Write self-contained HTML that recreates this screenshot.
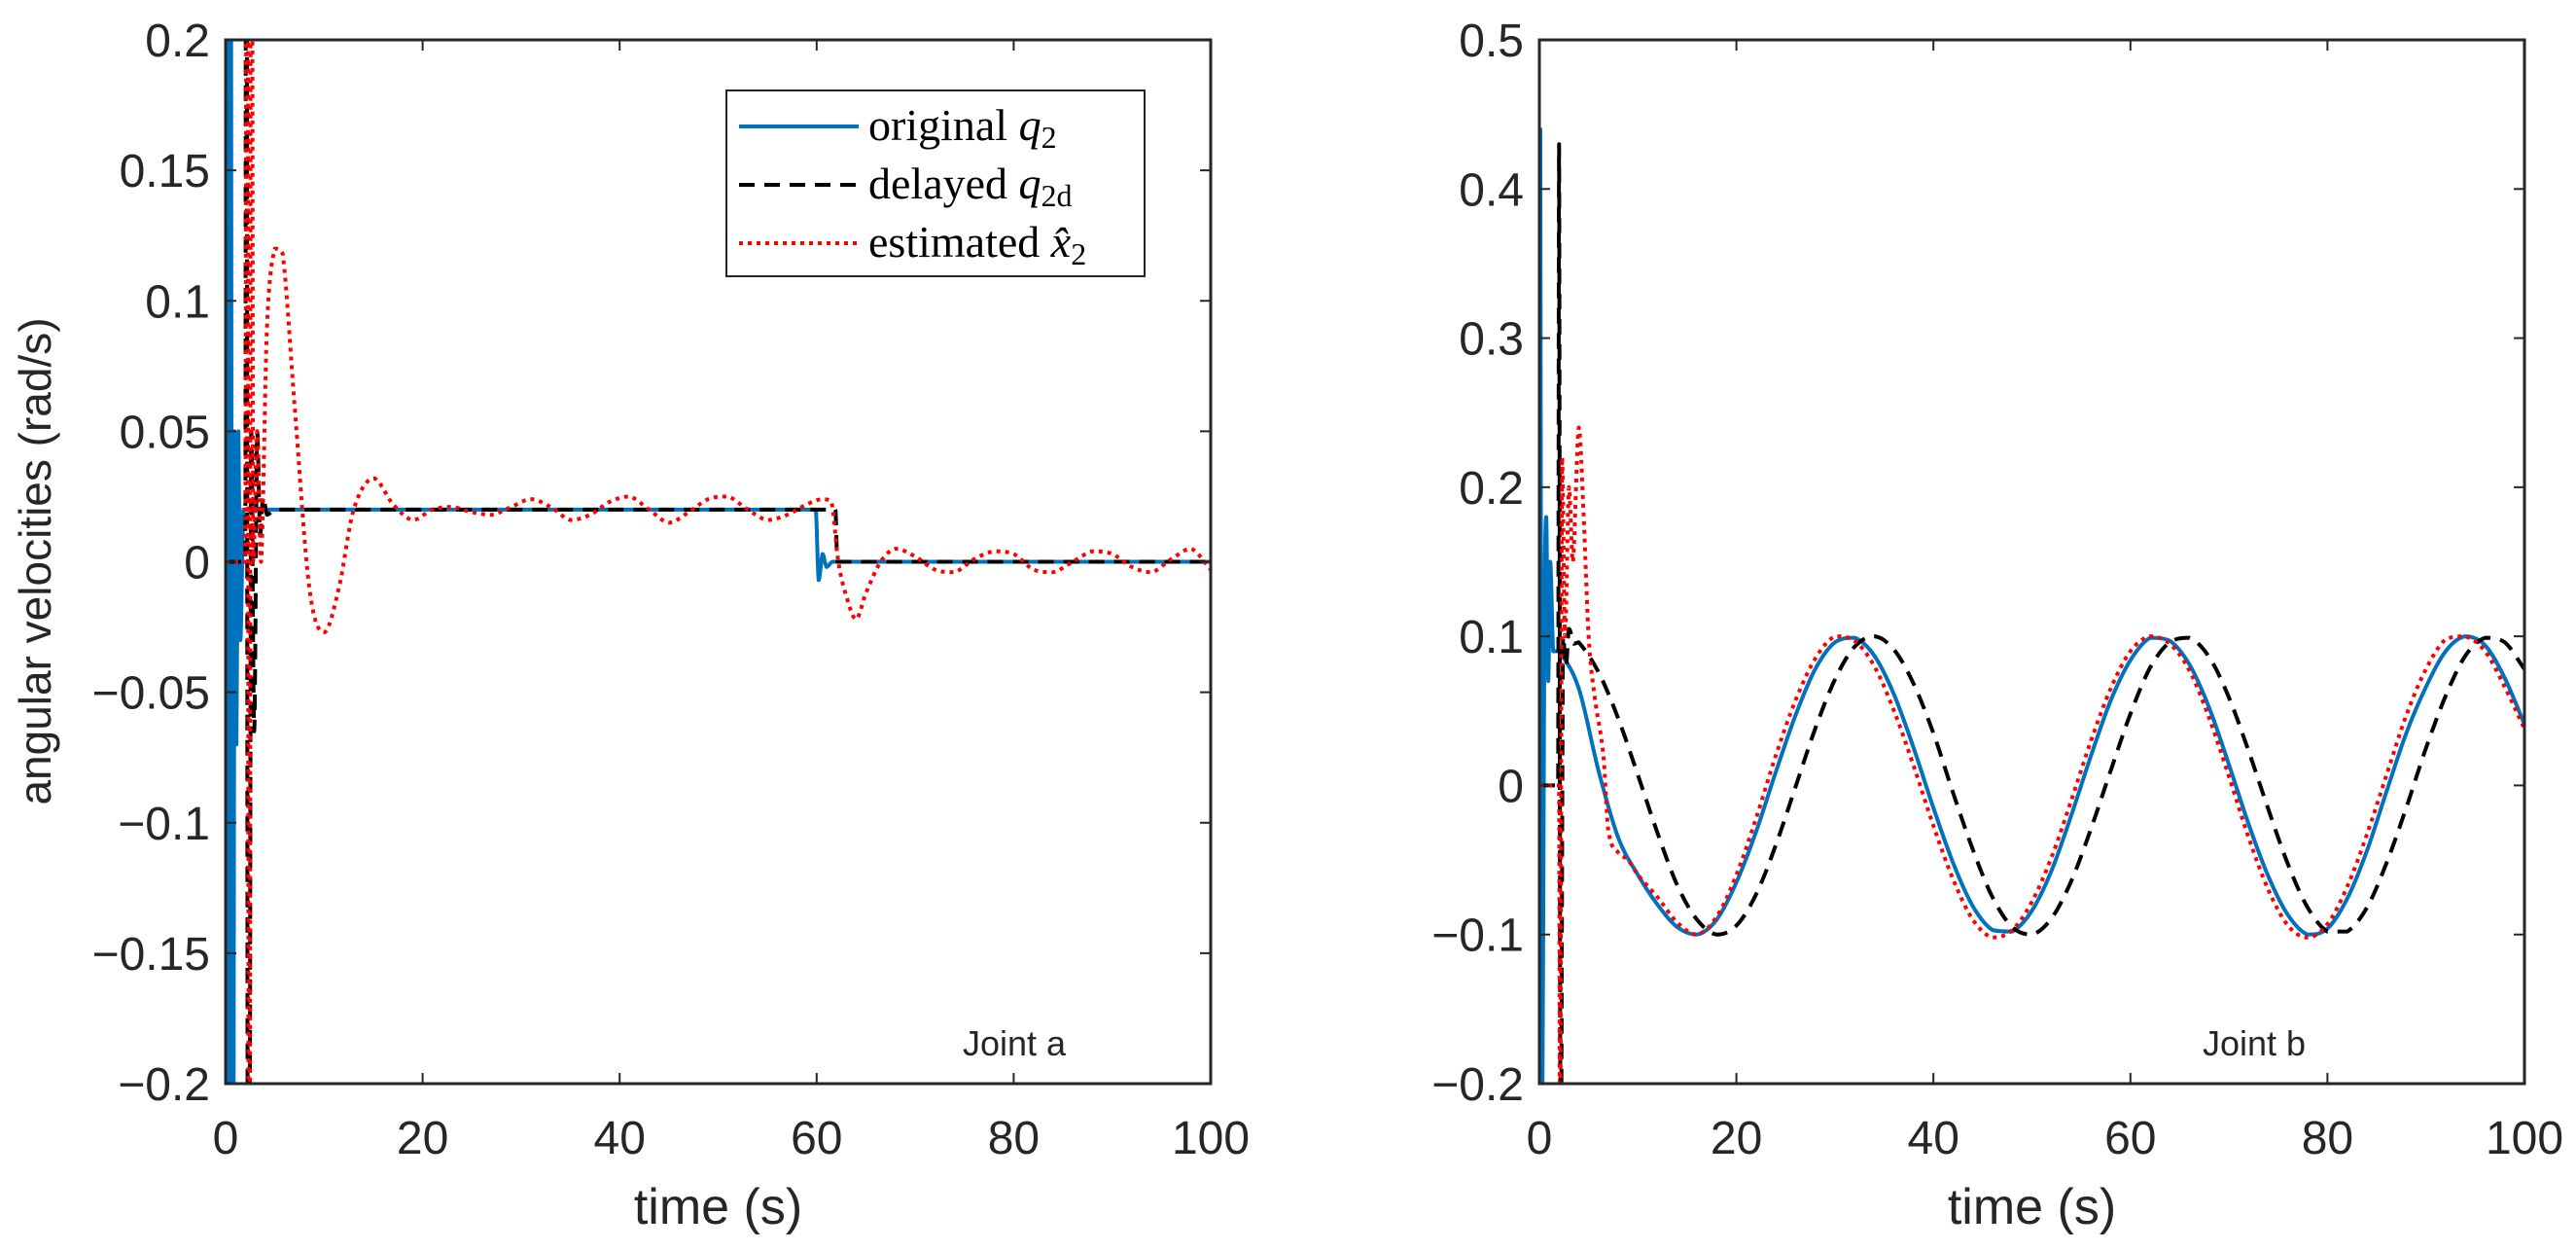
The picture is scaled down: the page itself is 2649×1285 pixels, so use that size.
<!DOCTYPE html>
<html><head><meta charset="utf-8"><style>
html,body{margin:0;padding:0;background:#fff;width:2649px;height:1285px;overflow:hidden}
svg{display:block}
text{font-family:"Liberation Sans",sans-serif;fill:#262626}
</style></head><body>
<svg id="chart" width="2649" height="1285" viewBox="0 0 2649 1285"></svg>
<script>
// ---- data ----
const xTicks=[0,20,40,60,80,100];
const yTicksA=[-0.2,-0.15,-0.1,-0.05,0,0.05,0.1,0.15,0.2];
const yTickLabelsA=["\u22120.2","\u22120.15","\u22120.1","\u22120.05","0","0.05","0.1","0.15","0.2"];
const yTicksB=[-0.2,-0.1,0,0.1,0.2,0.3,0.4,0.5];
const yTickLabelsB=["\u22120.2","\u22120.1","0","0.1","0.2","0.3","0.4","0.5"];

const origA=[[0,0],[0.15,0.5],[0.3,-0.5],[0.5,0.5],[0.7,-0.5],[0.9,0.05],[1.1,-0.07],[1.3,0.05],[1.5,-0.03],[1.8,0.02],[2.5,0.02],[20,0.02],[40,0.02],[59.9,0.02],[60.2,-0.007],[60.6,0.003],[61,-0.002],[61.6,0],[80,0],[100,0]];
const delayA=[[0,0],[2.0,0],[2.1,0.5],[2.3,-0.5],[2.6,0.05],[2.9,-0.065],[3.2,0.05],[3.5,0.01],[3.8,0.025],[4.2,0.018],[5,0.02],[30,0.02],[61.9,0.02],[62.1,0],[80,0],[100,0]];
const estA=[[0,0],[2.0,0],[2.2,0.5],[2.4,-0.5],[2.6,0.5],[2.8,0.0],[3.2,0.05],[3.6,0.0],[4.2,0.09],[5,0.12],[5.8,0.118],[7,0.06],[8.5,-0.01],[10,-0.027],[11.5,-0.01],[13,0.02],[15,0.032],[17,0.022],[19,0.016],[21,0.02],[23,0.021],[25,0.019],[27,0.018],[29,0.021],[31,0.024],[33,0.021],[35,0.016],[37,0.018],[39,0.023],[41,0.025],[43,0.02],[45,0.015],[47,0.019],[49,0.024],[51,0.025],[53,0.02],[55,0.016],[57,0.018],[59,0.022],[60.5,0.024],[61.5,0.023],[62.2,0.0],[63,-0.013],[64,-0.022],[65,-0.012],[66.5,0.0],[68,0.005],[70,0.002],[72,-0.003],[74,-0.004],[76,0.001],[78,0.004],[80,0.003],[82,-0.003],[84,-0.004],[86,0.0],[88,0.004],[90,0.003],[92,-0.002],[94,-0.004],[96,0.001],[98,0.005],[100,-0.003]];

const origB=[[0,0],[0.1,0.44],[0.25,-0.3],[0.5,0.1],[0.7,0.18],[0.9,0.07],[1.1,0.15],[1.4,0.09],[2,0.09],[4,0.065],[6,0.01],[8,-0.035],[10,-0.06],[12,-0.08],[14,-0.095],[16,-0.1],[18,-0.09],[20,-0.065],[22,-0.031],[24,0.009],[26,0.047],[28,0.078],[30,0.096],[32,0.099],[34,0.087],[36,0.061],[38,0.025],[40,-0.015],[42,-0.052],[44,-0.081],[46,-0.097],[48,-0.098],[50,-0.084],[52,-0.057],[54,-0.02],[56,0.02],[58,0.057],[60,0.084],[62,0.099],[64,0.097],[66,0.081],[68,0.052],[70,0.014],[72,-0.026],[74,-0.061],[76,-0.087],[78,-0.1],[80,-0.096],[82,-0.076],[84,-0.044],[86,-0.004],[88,0.035],[90,0.066],[92,0.09],[94,0.1],[96,0.094],[98,0.072],[100,0.041]];
const delayB=[[0,0],[1.9,0],[2.0,0.43],[2.15,-0.3],[2.4,0.1],[2.7,0.08],[3,0.105],[3.5,0.095],[4,0.096],[6,0.076],[8,0.045],[10,0.007],[12,-0.032],[14,-0.067],[16,-0.09],[18,-0.1],[20,-0.094],[22,-0.073],[24,-0.04],[26,-0.001],[28,0.038],[30,0.071],[32,0.093],[34,0.1],[36,0.091],[38,0.068],[40,0.035],[42,-0.005],[44,-0.043],[46,-0.075],[48,-0.095],[50,-0.1],[52,-0.089],[54,-0.064],[56,-0.029],[58,0.01],[60,0.048],[62,0.079],[64,0.096],[66,0.099],[68,0.086],[70,0.059],[72,0.023],[74,-0.016],[76,-0.053],[78,-0.082],[80,-0.098],[82,-0.098],[84,-0.082],[86,-0.052],[88,-0.015],[90,0.025],[92,0.06],[94,0.087],[96,0.099],[98,0.096],[100,0.078]];
const estB=[[0,0],[2.0,0],[2.1,-0.3],[2.3,0.22],[2.6,0.1],[3,0.2],[3.4,0.15],[4,0.24],[4.5,0.18],[5,0.1],[5.6,0.06],[6.5,0.02],[7,-0.03],[8,-0.045],[9,-0.05],[10,-0.06],[12,-0.075],[14,-0.092],[16,-0.1],[18,-0.088],[20,-0.06],[22,-0.022],[24,0.02],[26,0.057],[28,0.085],[30,0.1],[32,0.097],[34,0.08],[36,0.05],[38,0.013],[40,-0.027],[42,-0.063],[44,-0.09],[46,-0.102],[48,-0.097],[50,-0.078],[52,-0.048],[54,-0.01],[56,0.03],[58,0.065],[60,0.09],[62,0.1],[64,0.095],[66,0.077],[68,0.045],[70,0.006],[72,-0.035],[74,-0.07],[76,-0.094],[78,-0.102],[80,-0.093],[82,-0.068],[84,-0.033],[86,0.007],[88,0.047],[90,0.078],[92,0.098],[94,0.1],[96,0.09],[98,0.066],[100,0.038]];

const NS="http://www.w3.org/2000/svg";
const svg=document.getElementById('chart');
function mk(tag,attrs,parent){const e=document.createElementNS(NS,tag);for(const k in attrs)e.setAttribute(k,attrs[k]);(parent||svg).appendChild(e);return e;}

function smooth(pts){
  let d="M"+pts[0][0].toFixed(2)+","+pts[0][1].toFixed(2);
  for(let i=0;i<pts.length-1;i++){
    const p0=pts[Math.max(i-1,0)],p1=pts[i],p2=pts[i+1],p3=pts[Math.min(i+2,pts.length-1)];
    const dx=p2[0]-p1[0];
    // tangents scaled to segment width (no backward loops)
    let m1=(p2[0]-p0[0])>0?(p2[1]-p0[1])/(p2[0]-p0[0]):0;
    let m2=(p3[0]-p1[0])>0?(p3[1]-p1[1])/(p3[0]-p1[0]):0;
    const s=(p2[1]-p1[1])/(dx||1);
    if(m1*s<=0)m1=0; if(m2*s<=0)m2=0;
    if(Math.abs(m1)>3*Math.abs(s))m1=3*s; if(Math.abs(m2)>3*Math.abs(s))m2=3*s;
    const c1x=p1[0]+dx/3,c1y=p1[1]+m1*dx/3;
    const c2x=p2[0]-dx/3,c2y=p2[1]-m2*dx/3;
    d+=" C"+c1x.toFixed(2)+","+c1y.toFixed(2)+" "+c2x.toFixed(2)+","+c2y.toFixed(2)+" "+p2[0].toFixed(2)+","+p2[1].toFixed(2);
  }
  return d;
}

function panel(id,L,R,T,B,ymin,ymax,yTicks,yLabels,series,joint,jx){
  const g=mk('g',{});
  
  
  const xs=v=>L+(v-0)/(100-0)*(R-L);
  const ys=v=>B-(v-ymin)/(ymax-ymin)*(B-T);
  const clip=mk('clipPath',{id:id+'-clip'},g);
  mk('rect',{x:L,y:T,width:R-L,height:B-T},clip);
  const plot=mk('g',{'clip-path':'url(#'+id+'-clip)'},g);
  series.forEach(s=>{
    const pts=s.data.map(p=>[xs(p[0]),ys(p[1])]);
    const p=mk('path',{d:smooth(pts),fill:'none',stroke:s.color,'stroke-width':s.w,'stroke-dasharray':s.dash||'none','stroke-linejoin':'round'},plot);
    
    
  });
  const box=mk('rect',{x:L,y:T,width:R-L,height:B-T,fill:'none',stroke:'#262626','stroke-width':3},g);
  
  
  xTicks.forEach(t=>{
    const x=xs(t);
    mk('line',{x1:x,y1:B,x2:x,y2:B-11,stroke:'#262626','stroke-width':2},g);
    mk('line',{x1:x,y1:T,x2:x,y2:T+11,stroke:'#262626','stroke-width':2},g);
    const tx=mk('text',{x:x,y:B+72,'font-size':48,'text-anchor':'middle'},g);
    tx.textContent=t;
    
    
  });
  yTicks.forEach((t,i)=>{
    const y=ys(t);
    mk('line',{x1:L,y1:y,x2:L+11,y2:y,stroke:'#262626','stroke-width':2},g);
    mk('line',{x1:R,y1:y,x2:R-11,y2:y,stroke:'#262626','stroke-width':2},g);
    const tx=mk('text',{x:L-16,y:y+17,'font-size':48,'text-anchor':'end'},g);
    tx.textContent=yLabels[i];
    
    
  });
  const xl=mk('text',{x:(L+R)/2,y:1258,'font-size':52,'text-anchor':'middle'},g);
  xl.textContent='time (s)';
  
  
  const jt=mk('text',{x:jx,y:1085,'font-size':36,'text-anchor':'middle',fill:'#000'},g);
  jt.textContent=joint;
  
  
}

const BLUE='#0072BD',RED='#FF0000';
panel('joint-a-plot',232,1245,41,1114,-0.2,0.2,yTicksA,yTickLabelsA,[
  {name:'original-q2-line',data:origA,color:BLUE,w:4},
  {name:'delayed-q2d-line',data:delayA,color:'#000',w:4,dash:'16 10'},
  {name:'estimated-x2-line',data:estA,color:RED,w:4,dash:'4 5'}
],'Joint a',1043);
panel('joint-b-plot',1583,2596,41,1114,-0.2,0.5,yTicksB,yTickLabelsB,[
  {name:'original-q2-line',data:origB,color:BLUE,w:4},
  {name:'delayed-q2d-line',data:delayB,color:'#000',w:4,dash:'16 10'},
  {name:'estimated-x2-line',data:estB,color:RED,w:4,dash:'4 5'}
],'Joint b',2318);

const yl=mk('text',{x:0,y:0,'font-size':46,'text-anchor':'middle',transform:'translate(52,577) rotate(-90)'});
yl.textContent='angular velocities (rad/s)';



const lg=mk('g',{});


mk('rect',{x:747,y:93,width:430,height:191,fill:'#fff',stroke:'#262626','stroke-width':2},lg);
const entries=[
  {name:'legend-entry-original',y:130,color:BLUE,dash:'none',label:'original ',sym:'q',sub:'2'},
  {name:'legend-entry-delayed',y:190,color:'#000',dash:'16 10',label:'delayed ',sym:'q',sub:'2d'},
  {name:'legend-entry-estimated',y:250,color:RED,dash:'4 5',label:'estimated ',sym:'x\u0302',sub:'2'}
];
entries.forEach(e=>{
  const eg=mk('g',{},lg);
  
  
  mk('line',{x1:760,y1:e.y,x2:883,y2:e.y,stroke:e.color,'stroke-width':4,'stroke-dasharray':e.dash},eg);
  const t=mk('text',{x:893,y:e.y+14,'font-size':46},eg);
  t.setAttribute('style','font-family:"Liberation Serif",serif;fill:#000');
  const a=mk('tspan',{},t);a.textContent=e.label;
  const b=mk('tspan',{'font-style':'italic'},t);b.textContent=e.sym;
  const c=mk('tspan',{'font-size':32,dy:8},t);c.textContent=e.sub;
});
</script>
</body></html>
